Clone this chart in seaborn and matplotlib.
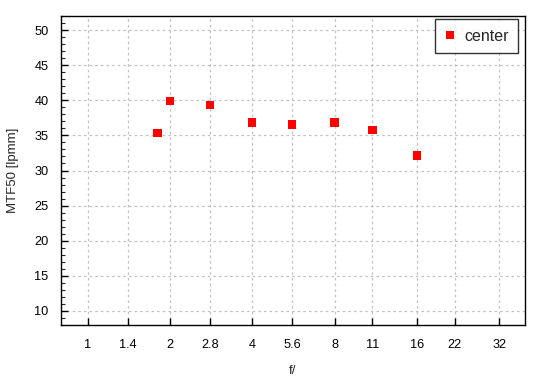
import numpy as np
import pandas as pd
import matplotlib
matplotlib.use('Agg')
import matplotlib.pyplot as plt
import seaborn as sns
from matplotlib.ticker import FixedLocator, MultipleLocator, NullLocator

sns.set_theme(style='ticks')
plt.rcParams['font.family'] = ['Liberation Sans', 'DejaVu Sans']

# measured f-stops and MTF50 values
f_stops = [1.8, 2.0, 2.8, 4.0, 5.6, 8.0, 11.0, 16.0]
mtf50 = [35.35, 39.85, 39.3, 36.85, 36.55, 36.85, 35.75, 32.15]
x_ticks = [1, 1.4, 2, 2.8, 4, 5.6, 8, 11, 16, 22, 32]
x_tick_labels = ['1', '1.4', '2', '2.8', '4', '5.6', '8', '11', '16', '22', '32']

df = pd.DataFrame({'f': f_stops, 'mtf': mtf50, 'series': 'center'})

fig = plt.figure(figsize=(5.5, 3.8), dpi=100)
ax = fig.add_axes([61 / 550, 55 / 380, 464 / 550, 309 / 380])

ax.set_xscale('log', base=2)
ax.set_xlim(0.8, 39.7)
ax.set_ylim(8, 52)

# grid first so the markers sit on top
ax.set_axisbelow(True)
ax.grid(True, which='major', color='#c0c0c0', linestyle=(0, (2, 2.5)), linewidth=0.9)

sns.scatterplot(data=df, x='f', y='mtf', hue='series', palette=['#ff0000'],
                marker='s', s=36, edgecolor='none', linewidth=0, ax=ax, zorder=3)

ax.xaxis.set_major_locator(FixedLocator(x_ticks))
ax.xaxis.set_minor_locator(NullLocator())
ax.set_xticklabels(x_tick_labels)
ax.yaxis.set_major_locator(MultipleLocator(5))
ax.yaxis.set_minor_locator(MultipleLocator(1))
ax.set_ylim(8, 52)

ax.tick_params(axis='both', which='major', direction='in', length=5, width=1,
               labelsize=9.2, colors='black')
ax.tick_params(axis='x', which='major', pad=10)
ax.tick_params(axis='y', which='major', pad=9)
ax.tick_params(axis='y', which='minor', direction='in', length=3, width=0.8)
ax.tick_params(top=False, right=False, which='both')

for s in ax.spines.values():
    s.set_visible(True)
    s.set_color('black')
    s.set_linewidth(1)

ax.set_xlabel('f/', fontsize=9.5, labelpad=10)
ax.set_ylabel('MTF50 [lpmm]', fontsize=9.5, labelpad=11)

leg = ax.legend(loc='upper right', fontsize=11.5, frameon=True, fancybox=False,
                borderpad=0.6, handletextpad=0.6, handlelength=0.6,
                borderaxespad=0, markerscale=0.9, bbox_to_anchor=(0.985, 0.99))
leg.get_frame().set_edgecolor('black')
leg.get_frame().set_linewidth(1)

fig.savefig('out.png', dpi=100)
